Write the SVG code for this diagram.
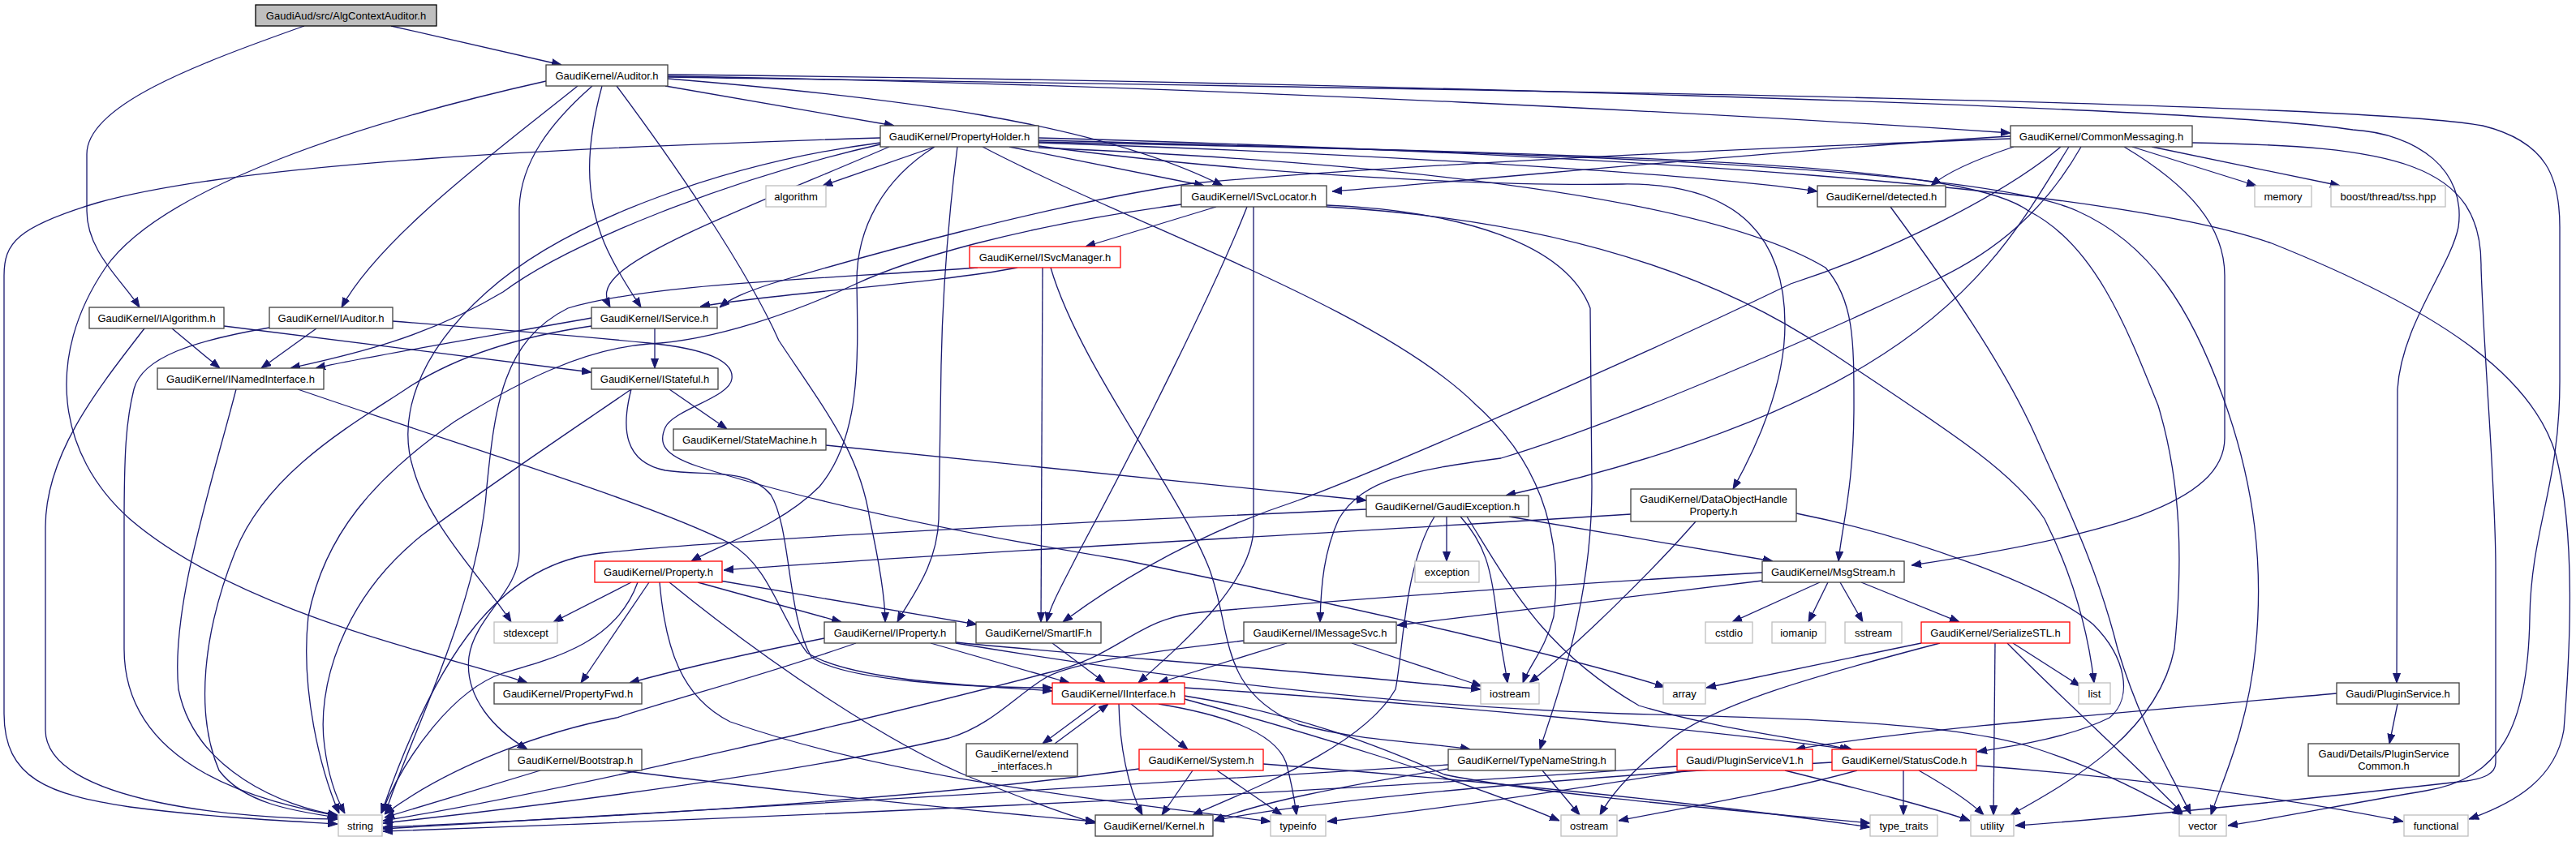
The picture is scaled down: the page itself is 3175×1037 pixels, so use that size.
<svg xmlns="http://www.w3.org/2000/svg" width="3175" height="1037" viewBox="0 0 3175 1037">
<style>
rect{stroke-width:1.3}
.n rect{fill:#fff;stroke:#404040}
.r rect{fill:#fff;stroke:#ff0000}
.g rect{fill:#fff;stroke:#bfbfbf}
.root rect{fill:#bfbfbf;stroke:#000}
text{font-family:"Liberation Sans",Arial,Helvetica,sans-serif;font-size:13px;fill:#000;text-anchor:middle}
#edges path{fill:none;stroke:#191970;stroke-width:1.3;marker-end:url(#ah)}
</style>
<defs>
<marker id="ah" viewBox="0 0 12 10" markerWidth="12" markerHeight="10" refX="12" refY="5" orient="auto" markerUnits="userSpaceOnUse"><path d="M0,0.5 L12,5 L0,9.5 z" fill="#191970" stroke="#191970" stroke-width="1"/></marker>
</defs>
<rect width="3175" height="1037" fill="#fff"/>
<g id="edges">
<path d="M482,32 L692,80"/>
<path d="M375,32 C240,80 107,130 107,190 L107,260 C107,310 150,345 172,379"/>
<path d="M673,100 C450,150 200,230 130,330 C55,440 70,560 160,640 C300,760 560,810 650,842"/>
<path d="M712,106 C620,180 470,290 421,379"/>
<path d="M730,106 C680,150 640,200 640,260 L640,680 C640,730 585,760 578,810 C572,860 610,900 650,924"/>
<path d="M742,106 C722,180 720,240 745,300 C760,335 778,360 790,379"/>
<path d="M820,106 L1102,155"/>
<path d="M823,97 C1100,120 1350,150 1507,229"/>
<path d="M823,94 C1500,105 2200,145 2478,164"/>
<path d="M760,106 C830,200 920,330 960,420 C1020,510 1060,560 1072,640 C1085,700 1091,740 1091,767"/>
<path d="M823,92 C1600,100 2700,130 2900,160 C2980,165 3040,210 3030,280 C3020,330 2960,400 2955,480 L2954,842"/>
<path d="M823,95 C1800,110 2900,125 3060,155 C3140,175 3155,220 3155,280 L3155,470 C3155,600 3120,650 3118,760 C3116,900 3080,960 2990,975 C2900,990 2800,1010 2746,1018"/>
<path d="M1085,170 C700,182 300,200 120,250 C20,280 5,300 5,340 L5,880 C5,960 60,980 160,995 C260,1008 350,1012 416,1016"/>
<path d="M1085,176 C900,200 700,270 600,360 C510,440 490,520 510,580 C530,650 600,720 630,767"/>
<path d="M1085,178 C900,220 700,300 620,360 C520,420 420,440 358,454"/>
<path d="M1096,181 C960,240 800,300 760,340 C745,355 745,365 752,379"/>
<path d="M1152,181 L1014,229"/>
<path d="M1152,181 C1090,220 1055,280 1056,350 C1058,450 1060,540 1010,600 C960,650 890,670 852,692"/>
<path d="M1180,181 C1170,260 1162,350 1160,450 L1157,640 C1155,700 1120,740 1106,767"/>
<path d="M1211,181 C1400,280 1700,380 1820,500 C1910,580 1925,680 1915,760 C1905,800 1885,820 1877,842"/>
<path d="M1244,181 L1484,229"/>
<path d="M1280,176 C1700,190 2100,215 2240,236"/>
<path d="M1280,180 C1500,210 1800,230 2000,227 C2150,225 2200,300 2200,400 C2200,480 2160,560 2136,603"/>
<path d="M1280,182 C1700,200 2100,240 2250,330 C2285,370 2285,420 2285,500 C2285,600 2270,650 2266,692"/>
<path d="M1280,170 C2000,190 2600,230 2800,300 C3000,380 3120,460 3150,560 C3175,660 3168,800 3160,900 C3150,960 3100,990 3043,1010"/>
<path d="M1280,173 C2000,190 2450,210 2560,260 C2650,300 2700,380 2740,490 C2780,600 2790,700 2780,800 C2770,900 2740,960 2725,1005"/>
<path d="M1280,175 C2000,190 2420,200 2500,260 C2580,300 2620,400 2660,500 C2690,600 2690,700 2680,800 C2660,900 2560,960 2478,1005"/>
<path d="M2478,168 C2200,185 1900,215 1642,236"/>
<path d="M2482,181 C2440,195 2400,212 2380,229"/>
<path d="M2478,171 C2100,185 1700,205 1470,226 C1300,250 1050,320 950,350 C920,360 900,368 887,379"/>
<path d="M2550,181 C2500,260 2450,360 2300,450 C2150,540 1950,590 1856,611"/>
<path d="M2565,181 C2520,260 2460,310 2386,345 C2250,410 2000,520 1850,565 C1740,580 1680,590 1650,640 C1632,680 1628,720 1627,767"/>
<path d="M2618,181 C2700,230 2742,280 2742,340 L2742,540 C2742,620 2600,660 2356,697"/>
<path d="M2540,181 C2470,240 2330,310 2207,350 C2000,450 1700,580 1600,617 C1500,650 1400,700 1310,767"/>
<path d="M2628,181 L2781,229"/>
<path d="M2652,181 L2884,229"/>
<path d="M2702,176 C2950,180 3060,200 3058,330 C3062,450 3076,600 3076,700 L3076,940 C3076,955 3060,960 3040,963 C2800,990 2600,1010 2484,1018"/>
<path d="M1499,255 L1338,304"/>
<path d="M1537,255 C1500,350 1400,550 1330,680 C1310,720 1295,745 1290,767"/>
<path d="M1545,255 L1545,650 C1545,720 1450,800 1403,842"/>
<path d="M1456,252 C1250,280 1120,320 1055,350 C980,385 880,420 800,424 C720,430 640,470 560,520 C460,590 400,660 380,760 C370,850 395,950 418,1003"/>
<path d="M1635,253 C1800,260 1930,300 1960,380 L1962,600 C1962,750 1915,870 1898,924"/>
<path d="M1635,255 C1900,270 2100,330 2250,430 C2400,530 2480,580 2520,640 C2560,720 2575,790 2581,842"/>
<path d="M1254,330 C1150,350 950,362 863,378"/>
<path d="M1205,330 C1000,345 800,350 700,380 C620,420 610,500 600,600 C590,750 500,920 475,1003"/>
<path d="M1285,330 L1283,767"/>
<path d="M1295,330 C1330,450 1450,600 1490,700 C1520,780 1500,850 1600,893 C1680,915 1760,915 1812,924"/>
<path d="M212,405 L271,454"/>
<path d="M178,405 C120,480 56,560 56,650 L56,900 C56,990 300,1010 416,1010"/>
<path d="M276,402 L729,459"/>
<path d="M390,405 L322,454"/>
<path d="M332,404 C240,420 175,440 165,480 C155,520 153,560 153,650 L153,800 C153,950 330,990 416,1006"/>
<path d="M484,396 C600,405 720,415 800,423 C870,430 905,445 902,467 C900,490 830,505 820,527 C812,545 815,560 860,575 C1000,620 1200,660 1382,690 C1600,735 1900,800 2052,847"/>
<path d="M291,480 C260,600 210,750 220,850 C240,950 350,995 416,1005"/>
<path d="M367,480 C600,560 800,620 900,670 C950,700 960,760 995,805 C1050,840 1200,845 1297,852"/>
<path d="M807,405 L807,454"/>
<path d="M729,392 C600,415 450,440 389,454"/>
<path d="M729,402 C640,415 560,440 500,480 C440,520 330,580 290,680 C250,780 240,880 270,950 C300,990 360,1000 416,1008"/>
<path d="M825,480 L896,529"/>
<path d="M778,480 C765,530 770,570 820,580 C870,588 920,575 950,610 C975,650 970,760 1000,810 C1040,840 1200,848 1297,848"/>
<path d="M778,480 C720,520 600,600 520,660 C420,740 390,850 400,920 C405,960 415,985 425,1003"/>
<path d="M1018,549 L1684,617"/>
<path d="M1783,637 L1783,692"/>
<path d="M1800,637 C1830,670 1838,700 1845,760 C1850,800 1855,820 1858,842"/>
<path d="M1808,637 C1860,720 1900,800 2020,870 C2120,900 2220,910 2284,925"/>
<path d="M1768,637 C1730,700 1730,800 1720,850 C1680,920 1550,970 1470,1005"/>
<path d="M1860,637 C2000,660 2120,680 2185,692"/>
<path d="M1684,628 C1300,645 900,665 740,682 C620,695 540,800 470,1003"/>
<path d="M2010,634 C1600,660 1200,680 892,703"/>
<path d="M2090,643 C2040,700 1950,790 1885,842"/>
<path d="M2214,633 C2350,660 2520,720 2580,770 C2620,810 2630,860 2600,885 C2550,910 2480,920 2437,927"/>
<path d="M778,718 L682,767"/>
<path d="M800,718 L716,842"/>
<path d="M786,718 C760,790 690,810 620,830 C560,850 500,930 470,1003"/>
<path d="M860,718 L1037,767"/>
<path d="M887,716 L1204,770"/>
<path d="M825,718 C950,820 1100,920 1200,960 C1250,980 1300,1000 1350,1015"/>
<path d="M813,718 C820,800 840,860 900,890 C1100,960 1350,985 1566,1013"/>
<path d="M1016,787 C900,810 820,830 776,842"/>
<path d="M1055,793 C950,830 830,862 760,885 C680,900 560,940 474,1004"/>
<path d="M1147,793 L1318,842"/>
<path d="M1178,792 C1300,805 1650,830 1825,850"/>
<path d="M1178,793 C1400,830 1700,870 2000,880 C2200,885 2400,890 2500,920 C2580,945 2640,975 2690,1005"/>
<path d="M1297,793 L1362,842"/>
<path d="M1586,793 L1428,842"/>
<path d="M1666,793 L1826,846"/>
<path d="M1533,790 C1400,805 1310,820 1285,838 C1250,860 1220,895 1170,910 C1000,950 700,990 472,1015"/>
<path d="M2243,718 L2135,767"/>
<path d="M2253,718 L2229,767"/>
<path d="M2268,718 L2296,767"/>
<path d="M2294,718 L2415,767"/>
<path d="M2172,716 L1722,771"/>
<path d="M2172,706 C1900,722 1650,740 1480,755 C1400,762 1380,810 1290,830 C1100,880 700,975 472,1012"/>
<path d="M2368,793 L2103,848"/>
<path d="M2391,793 C2250,830 2100,870 2050,920 C2000,960 1980,990 1972,1005"/>
<path d="M2459,793 L2457,1005"/>
<path d="M2481,793 L2564,846"/>
<path d="M2474,793 C2550,870 2640,950 2690,1003"/>
<path d="M1351,868 L1285,917"/>
<path d="M1300,917 L1366,868"/>
<path d="M1394,868 L1464,924"/>
<path d="M1379,868 C1380,920 1390,970 1408,1005"/>
<path d="M1428,868 C1500,880 1570,900 1585,940 C1592,965 1596,990 1598,1005"/>
<path d="M1460,862 C1600,900 1800,960 1922,1012"/>
<path d="M1460,858 C1600,880 1700,920 1780,955 C1900,980 2150,1000 2305,1015"/>
<path d="M1460,848 C1800,870 2100,900 2280,924"/>
<path d="M1470,950 L1432,1005"/>
<path d="M1500,950 L1580,1005"/>
<path d="M1404,948 C1100,990 700,1010 472,1020"/>
<path d="M1557,942 C1800,960 2100,990 2305,1020"/>
<path d="M1785,943 C1400,970 800,1000 472,1022"/>
<path d="M1901,950 L1947,1005"/>
<path d="M1785,948 C1650,970 1550,990 1496,1012"/>
<path d="M2067,945 C1600,980 900,1010 472,1025"/>
<path d="M2080,950 C1900,980 1750,1000 1636,1013"/>
<path d="M2200,950 C2300,975 2380,995 2428,1012"/>
<path d="M2880,855 C2600,880 2350,900 2213,924"/>
<path d="M2955,868 L2945,917"/>
<path d="M2289,950 C2200,975 2080,995 1995,1012"/>
<path d="M2346,950 L2346,1005"/>
<path d="M2365,950 C2400,970 2430,990 2445,1005"/>
<path d="M2436,944 C2650,960 2850,990 2962,1013"/>
<path d="M2258,940 C1900,960 1600,990 1497,1012"/>
<path d="M666,950 L474,1008"/>
<path d="M765,950 C1000,980 1200,1000 1350,1013"/>
<path d="M2330,255 C2400,350 2470,450 2510,540 C2550,630 2585,700 2610,800 C2640,900 2680,960 2700,1004"/>
</g>
<g id="node-AlgContextAuditor" class="root"><rect x="315" y="6" width="223" height="26"/><text x="426.5" y="23.5">GaudiAud/src/AlgContextAuditor.h</text></g>
<g id="node-Auditor" class="n"><rect x="673" y="80" width="150" height="26"/><text x="748" y="97.5">GaudiKernel/Auditor.h</text></g>
<g id="node-PropertyHolder" class="n"><rect x="1085" y="155" width="195" height="26"/><text x="1182.5" y="172.5">GaudiKernel/PropertyHolder.h</text></g>
<g id="node-CommonMessaging" class="n"><rect x="2478" y="155" width="224" height="26"/><text x="2590" y="172.5">GaudiKernel/CommonMessaging.h</text></g>
<g id="node-algorithm" class="g"><rect x="944" y="229" width="74" height="26"/><text x="981" y="246.5">algorithm</text></g>
<g id="node-ISvcLocator" class="n"><rect x="1456" y="229" width="179" height="26"/><text x="1545.5" y="246.5">GaudiKernel/ISvcLocator.h</text></g>
<g id="node-detected" class="n"><rect x="2240" y="229" width="158" height="26"/><text x="2319" y="246.5">GaudiKernel/detected.h</text></g>
<g id="node-memory" class="g"><rect x="2779" y="229" width="70" height="26"/><text x="2814" y="246.5">memory</text></g>
<g id="node-tss" class="g"><rect x="2873" y="229" width="141" height="26"/><text x="2943.5" y="246.5">boost/thread/tss.hpp</text></g>
<g id="node-ISvcManager" class="r"><rect x="1195" y="304" width="186" height="26"/><text x="1288" y="321.5">GaudiKernel/ISvcManager.h</text></g>
<g id="node-IAlgorithm" class="n"><rect x="110" y="379" width="166" height="26"/><text x="193" y="396.5">GaudiKernel/IAlgorithm.h</text></g>
<g id="node-IAuditor" class="n"><rect x="332" y="379" width="152" height="26"/><text x="408" y="396.5">GaudiKernel/IAuditor.h</text></g>
<g id="node-IService" class="n"><rect x="729" y="379" width="155" height="26"/><text x="806.5" y="396.5">GaudiKernel/IService.h</text></g>
<g id="node-INamedInterface" class="n"><rect x="194" y="454" width="205" height="26"/><text x="296.5" y="471.5">GaudiKernel/INamedInterface.h</text></g>
<g id="node-IStateful" class="n"><rect x="729" y="454" width="156" height="26"/><text x="807" y="471.5">GaudiKernel/IStateful.h</text></g>
<g id="node-StateMachine" class="n"><rect x="830" y="529" width="188" height="26"/><text x="924" y="546.5">GaudiKernel/StateMachine.h</text></g>
<g id="node-GaudiException" class="n"><rect x="1684" y="611" width="200" height="26"/><text x="1784" y="628.5">GaudiKernel/GaudiException.h</text></g>
<g id="node-DataObjectHandleProperty" class="n"><rect x="2010" y="603" width="204" height="40"/><text x="2112" y="620">GaudiKernel/DataObjectHandle</text><text x="2112" y="635">Property.h</text></g>
<g id="node-Property" class="r"><rect x="733" y="692" width="157" height="26"/><text x="811.5" y="709.5">GaudiKernel/Property.h</text></g>
<g id="node-exception" class="g"><rect x="1744" y="692" width="79" height="26"/><text x="1783.5" y="709.5">exception</text></g>
<g id="node-MsgStream" class="n"><rect x="2172" y="692" width="175" height="26"/><text x="2259.5" y="709.5">GaudiKernel/MsgStream.h</text></g>
<g id="node-stdexcept" class="g"><rect x="609" y="767" width="78" height="26"/><text x="648" y="784.5">stdexcept</text></g>
<g id="node-IProperty" class="n"><rect x="1016" y="767" width="162" height="26"/><text x="1097" y="784.5">GaudiKernel/IProperty.h</text></g>
<g id="node-SmartIF" class="n"><rect x="1203" y="767" width="154" height="26"/><text x="1280" y="784.5">GaudiKernel/SmartIF.h</text></g>
<g id="node-IMessageSvc" class="n"><rect x="1533" y="767" width="188" height="26"/><text x="1627" y="784.5">GaudiKernel/IMessageSvc.h</text></g>
<g id="node-cstdio" class="g"><rect x="2102" y="767" width="58" height="26"/><text x="2131" y="784.5">cstdio</text></g>
<g id="node-iomanip" class="g"><rect x="2184" y="767" width="66" height="26"/><text x="2217" y="784.5">iomanip</text></g>
<g id="node-sstream" class="g"><rect x="2274" y="767" width="70" height="26"/><text x="2309" y="784.5">sstream</text></g>
<g id="node-SerializeSTL" class="r"><rect x="2368" y="767" width="183" height="26"/><text x="2459.5" y="784.5">GaudiKernel/SerializeSTL.h</text></g>
<g id="node-PropertyFwd" class="n"><rect x="609" y="842" width="182" height="26"/><text x="700" y="859.5">GaudiKernel/PropertyFwd.h</text></g>
<g id="node-IInterface" class="r"><rect x="1297" y="842" width="163" height="26"/><text x="1378.5" y="859.5">GaudiKernel/IInterface.h</text></g>
<g id="node-iostream" class="g"><rect x="1825" y="842" width="72" height="26"/><text x="1861" y="859.5">iostream</text></g>
<g id="node-array" class="g"><rect x="2050" y="842" width="52" height="26"/><text x="2076" y="859.5">array</text></g>
<g id="node-list" class="g"><rect x="2562" y="842" width="39" height="26"/><text x="2581.5" y="859.5">list</text></g>
<g id="node-PluginService" class="n"><rect x="2880" y="842" width="151" height="26"/><text x="2955.5" y="859.5">Gaudi/PluginService.h</text></g>
<g id="node-Bootstrap" class="n"><rect x="627" y="924" width="164" height="26"/><text x="709" y="941.5">GaudiKernel/Bootstrap.h</text></g>
<g id="node-extend_interfaces" class="n"><rect x="1191" y="917" width="137" height="40"/><text x="1259.5" y="934">GaudiKernel/extend</text><text x="1259.5" y="949">_interfaces.h</text></g>
<g id="node-System" class="r"><rect x="1404" y="924" width="153" height="26"/><text x="1480.5" y="941.5">GaudiKernel/System.h</text></g>
<g id="node-TypeNameString" class="n"><rect x="1785" y="924" width="206" height="26"/><text x="1888" y="941.5">GaudiKernel/TypeNameString.h</text></g>
<g id="node-PluginServiceV1" class="r"><rect x="2067" y="924" width="167" height="26"/><text x="2150.5" y="941.5">Gaudi/PluginServiceV1.h</text></g>
<g id="node-StatusCode" class="r"><rect x="2258" y="924" width="178" height="26"/><text x="2347" y="941.5">GaudiKernel/StatusCode.h</text></g>
<g id="node-PluginServiceCommon" class="n"><rect x="2845" y="917" width="186" height="40"/><text x="2938" y="934">Gaudi/Details/PluginService</text><text x="2938" y="949">Common.h</text></g>
<g id="node-string" class="g"><rect x="417" y="1005" width="54" height="26"/><text x="444" y="1022.5">string</text></g>
<g id="node-Kernel" class="n"><rect x="1350" y="1005" width="145" height="26"/><text x="1422.5" y="1022.5">GaudiKernel/Kernel.h</text></g>
<g id="node-typeinfo" class="g"><rect x="1566" y="1005" width="68" height="26"/><text x="1600" y="1022.5">typeinfo</text></g>
<g id="node-ostream" class="g"><rect x="1924" y="1005" width="69" height="26"/><text x="1958.5" y="1022.5">ostream</text></g>
<g id="node-type_traits" class="g"><rect x="2305" y="1005" width="83" height="26"/><text x="2346.5" y="1022.5">type_traits</text></g>
<g id="node-utility" class="g"><rect x="2429" y="1005" width="53" height="26"/><text x="2455.5" y="1022.5">utility</text></g>
<g id="node-vector" class="g"><rect x="2686" y="1005" width="58" height="26"/><text x="2715" y="1022.5">vector</text></g>
<g id="node-functional" class="g"><rect x="2963" y="1005" width="79" height="26"/><text x="3002.5" y="1022.5">functional</text></g>
</svg>
